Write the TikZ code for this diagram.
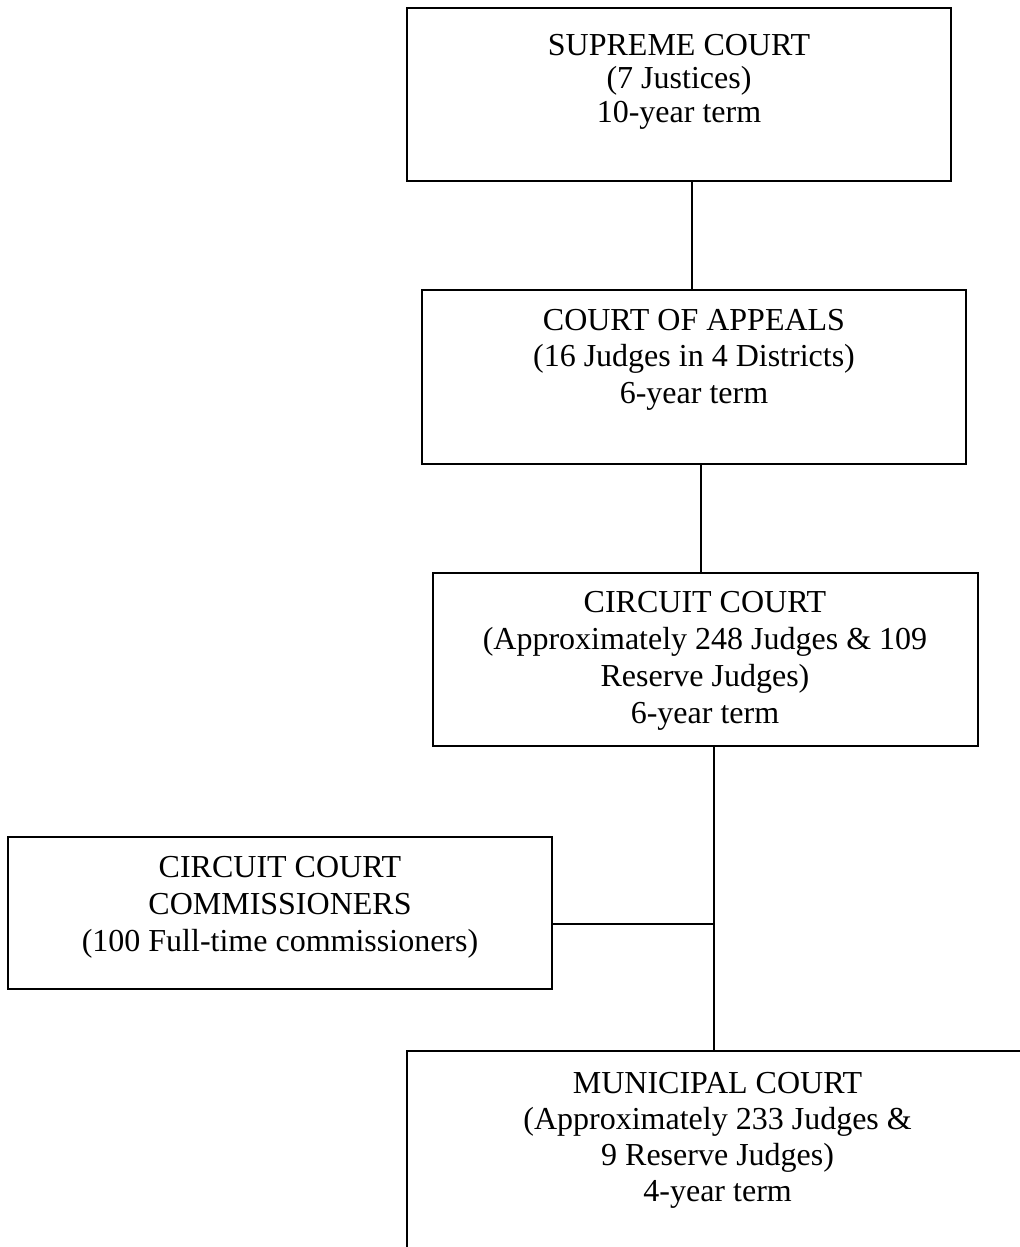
\documentclass[tikz,border=0pt]{standalone}
\usepackage{fontspec}
\setmainfont{Liberation Serif}
\tikzset{
  box/.style={draw=black, line width=1.5pt, rectangle, inner sep=0pt},
  lbl/.style={anchor=north, inner sep=0pt, align=center, font=\fontsize{24}{27.5}\selectfont},
  link/.style={draw=black, line width=1.4pt}
}
\newcommand{\firstline}{\rule{0pt}{20pt}}
\begin{document}
\begin{tikzpicture}[x=0.75pt,y=-0.75pt]
\useasboundingbox (0,0) rectangle (1020,1247);
\fill[white] (0,0) rectangle (1020,1247);
\clip (0,0) rectangle (1020,1247);

% boxes
\node[box, minimum width={544*0.75pt}, minimum height={173*0.75pt}] (sup) at (679,94.5) {};
\node[box, minimum width={544*0.75pt}, minimum height={174*0.75pt}] (app) at (694,377) {};
\node[box, minimum width={545*0.75pt}, minimum height={173.5*0.75pt}] (cir) at (705.5,659.25) {};
\node[box, minimum width={544*0.75pt}, minimum height={152*0.75pt}] (com) at (280,912.5) {};
\node[box, minimum width={621*0.75pt}, minimum height={300*0.75pt}] (mun) at (717.5,1200.5) {};

% texts
\node[lbl, font=\fontsize{24}{25.1}\selectfont] (supT) at (679,28.33) {\firstline SUPREME COURT\\(7 Justices)\\10-year term};
\node[lbl] (appT) at (694,303.33) {\firstline COURT OF APPEALS\\(16 Judges in 4 Districts)\\6-year term};
\node[lbl, font=\fontsize{24}{27.7}\selectfont] (cirT) at (705,585.33) {\firstline CIRCUIT COURT\\(Approximately 248 Judges \& 109\\Reserve Judges)\\6-year term};
\node[lbl, font=\fontsize{24}{27.7}\selectfont] (comT) at (280,850.5) {\firstline CIRCUIT COURT\\COMMISSIONERS\\(100 Full-time commissioners)};
\node[lbl, font=\fontsize{24}{27}\selectfont] (munT) at (717.6,1066.33) {\firstline MUNICIPAL COURT\\(Approximately 233 Judges \&\\9 Reserve Judges)\\4-year term};

% connector guides
\coordinate (c1) at (692.3,0);
\coordinate (c2) at (700.8,0);
\coordinate (j) at (713.7,924);

\draw[link] (sup.south -| c1) -- (app.north -| c1);
\draw[link] (app.south -| c2) -- (cir.north -| c2);
\draw[link] (cir.south -| j) -- (mun.north -| j);
\draw[link] (com.east |- j) -- (j);
\end{tikzpicture}
\end{document}
